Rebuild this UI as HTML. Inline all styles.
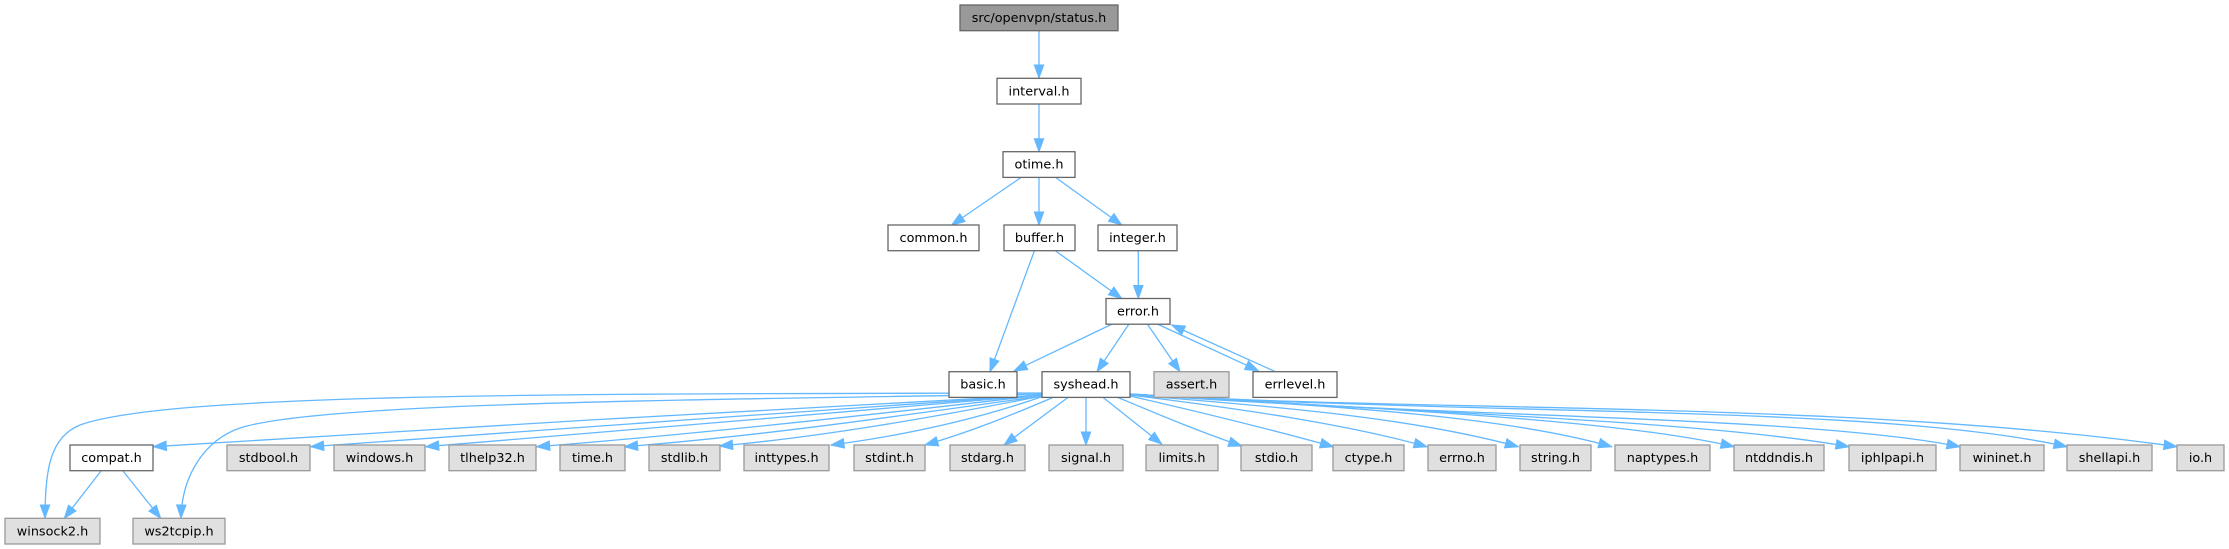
<!DOCTYPE html>
<html>
<head>
<meta charset="utf-8">
<style>
html,body{margin:0;padding:0;background:#fff;}
svg{display:block;}
text{font-family:"DejaVu Sans","Liberation Sans",sans-serif;font-size:12.8px;fill:#000;text-anchor:middle;}
.e{fill:none;stroke:#63b8ff;stroke-width:1.3;marker-end:url(#a);}
.w{fill:#fff;stroke:#666;stroke-width:1.3;}
.g{fill:#e0e0e0;stroke:#999;stroke-width:1.3;}
.r{fill:#999;stroke:#666;stroke-width:1.3;}
</style>
</head>
<body>
<svg width="2229" height="549" viewBox="0 0 2229 549" xmlns="http://www.w3.org/2000/svg">
<defs>
<marker id="a" markerUnits="userSpaceOnUse" markerWidth="16" markerHeight="12" refX="13" refY="4.7" orient="auto" overflow="visible">
<path d="M0,0 L13,4.7 L0,9.4 z" fill="#63b8ff" stroke="#63b8ff" stroke-width="1"/>
</marker>
</defs>

<!-- edges upper -->
<path class="e" d="M1039,31 L1039,78"/>
<path class="e" d="M1039,104 L1039,151.7"/>
<path class="e" d="M1021,177.5 L951.7,225"/>
<path class="e" d="M1039,177.5 L1039,225"/>
<path class="e" d="M1055.7,177.5 L1121.7,225"/>
<path class="e" d="M1055.7,251 L1121.7,298.5"/>
<path class="e" d="M1034.3,251 L990,371.7"/>
<path class="e" d="M1138.3,251 L1138.3,298.5"/>
<path class="e" d="M1112.3,324 L1014,371"/>
<path class="e" d="M1129,324 L1097,371.7"/>
<path class="e" d="M1147.3,324 L1180,371.7"/>
<path class="e" d="M1157.3,324 L1258.3,370.7"/>
<path class="e" d="M1275.5,371.7 L1171.7,325"/>

<!-- syshead left fan -->
<path class="e" d="M1042,393 C600,394 170,392 80,425 C50,437 45,470 45,518"/>
<path class="e" d="M1042,394 C700,400 320,402 240,428 C205,440 182,475 181,518"/>
<path class="e" d="M1042,395 C800,408 400,430 153.3,446.7"/>
<path class="e" d="M1042,395 C820,410 520,432 310.7,446.7"/>
<path class="e" d="M1042,395 C850,412 600,432 425.7,446.7"/>
<path class="e" d="M1042,395 C880,414 700,434 536.7,446.7"/>
<path class="e" d="M1042,396 C900,416 760,436 624.6,446.7"/>
<path class="e" d="M1042,396 C930,418 820,437 719.6,446"/>
<path class="e" d="M1044,396 C975,420 900,436 831,445"/>
<path class="e" d="M1054,397 C1012,415 970,432 925,445"/>
<path class="e" d="M1068.6,397 L1004,445"/>
<path class="e" d="M1086,397.3 L1086,445"/>

<!-- syshead right fan -->
<path class="e" d="M1102.5,397 L1161.7,444"/>
<path class="e" d="M1116.8,397 C1160,415 1200,432 1241.7,446"/>
<path class="e" d="M1130,396 C1200,412 1280,432 1333.3,446.7"/>
<path class="e" d="M1130,395 C1250,410 1350,425 1427,446.7"/>
<path class="e" d="M1130,395 C1300,408 1420,420 1518.3,446.7"/>
<path class="e" d="M1130,394 C1330,406 1500,415 1611.7,446.7"/>
<path class="e" d="M1130,394 C1400,410 1620,420 1734,446.7"/>
<path class="e" d="M1130,394 C1400,412 1700,420 1849,446.7"/>
<path class="e" d="M1130,394 C1450,418 1800,415 1960,446.7"/>
<path class="e" d="M1130,394 C1500,416 1880,405 2067,446.7"/>
<path class="e" d="M1130,394 C1400,412 1850,400 2177,446.7"/>

<!-- compat edges -->
<path class="e" d="M101,471 L64.3,518.3"/>
<path class="e" d="M123,471 L160.7,518.3"/>

<!-- nodes -->
<rect class="r" x="960" y="5" width="158" height="25.7"/><text x="1039" y="22">src/openvpn/status.h</text>
<rect class="w" x="997" y="78.3" width="84" height="25.7"/><text x="1039" y="95.3">interval.h</text>
<rect class="w" x="1003" y="151.7" width="72" height="25.7"/><text x="1039" y="168.7">otime.h</text>
<rect class="w" x="888" y="225" width="91" height="25.7"/><text x="933.5" y="242">common.h</text>
<rect class="w" x="1004" y="225" width="71" height="25.7"/><text x="1039.5" y="242">buffer.h</text>
<rect class="w" x="1098" y="225" width="79" height="25.7"/><text x="1137.5" y="242">integer.h</text>
<rect class="w" x="1106" y="298.5" width="64" height="25.7"/><text x="1138" y="315.5">error.h</text>
<rect class="w" x="949" y="371.7" width="68" height="25.7"/><text x="983" y="388.7">basic.h</text>
<rect class="w" x="1042" y="371.7" width="88" height="25.7"/><text x="1086" y="388.7">syshead.h</text>
<rect class="g" x="1154" y="371.7" width="75" height="25.7"/><text x="1191.5" y="388.7">assert.h</text>
<rect class="w" x="1253" y="371.7" width="84" height="25.7"/><text x="1295" y="388.7">errlevel.h</text>

<rect class="w" x="70" y="445" width="83" height="25.7"/><text x="111.5" y="462">compat.h</text>
<rect class="g" x="227" y="445" width="83" height="25.7"/><text x="268.5" y="462">stdbool.h</text>
<rect class="g" x="334" y="445" width="91" height="25.7"/><text x="379.5" y="462">windows.h</text>
<rect class="g" x="449" y="445" width="87" height="25.7"/><text x="492.5" y="462">tlhelp32.h</text>
<rect class="g" x="560" y="445" width="65" height="25.7"/><text x="592.5" y="462">time.h</text>
<rect class="g" x="649" y="445" width="71" height="25.7"/><text x="684.5" y="462">stdlib.h</text>
<rect class="g" x="744" y="445" width="85" height="25.7"/><text x="786.5" y="462">inttypes.h</text>
<rect class="g" x="854" y="445" width="71" height="25.7"/><text x="889.5" y="462">stdint.h</text>
<rect class="g" x="950" y="445" width="75" height="25.7"/><text x="987.5" y="462">stdarg.h</text>
<rect class="g" x="1049" y="445" width="74" height="25.7"/><text x="1086" y="462">signal.h</text>
<rect class="g" x="1146" y="445" width="72" height="25.7"/><text x="1182" y="462">limits.h</text>
<rect class="g" x="1241" y="445" width="71" height="25.7"/><text x="1276.5" y="462">stdio.h</text>
<rect class="g" x="1333" y="445" width="71" height="25.7"/><text x="1368.5" y="462">ctype.h</text>
<rect class="g" x="1428" y="445" width="68" height="25.7"/><text x="1462" y="462">errno.h</text>
<rect class="g" x="1520" y="445" width="71" height="25.7"/><text x="1555.5" y="462">string.h</text>
<rect class="g" x="1615" y="445" width="95" height="25.7"/><text x="1662.5" y="462">naptypes.h</text>
<rect class="g" x="1734" y="445" width="90" height="25.7"/><text x="1779" y="462">ntddndis.h</text>
<rect class="g" x="1849" y="445" width="87" height="25.7"/><text x="1892.5" y="462">iphlpapi.h</text>
<rect class="g" x="1960" y="445" width="84" height="25.7"/><text x="2002" y="462">wininet.h</text>
<rect class="g" x="2067" y="445" width="85" height="25.7"/><text x="2109.5" y="462">shellapi.h</text>
<rect class="g" x="2177" y="445" width="47" height="25.7"/><text x="2200.5" y="462">io.h</text>

<rect class="g" x="5" y="518.3" width="95" height="25.7"/><text x="52.5" y="535.3">winsock2.h</text>
<rect class="g" x="133" y="518.3" width="92" height="25.7"/><text x="179" y="535.3">ws2tcpip.h</text>
</svg>
</body>
</html>
